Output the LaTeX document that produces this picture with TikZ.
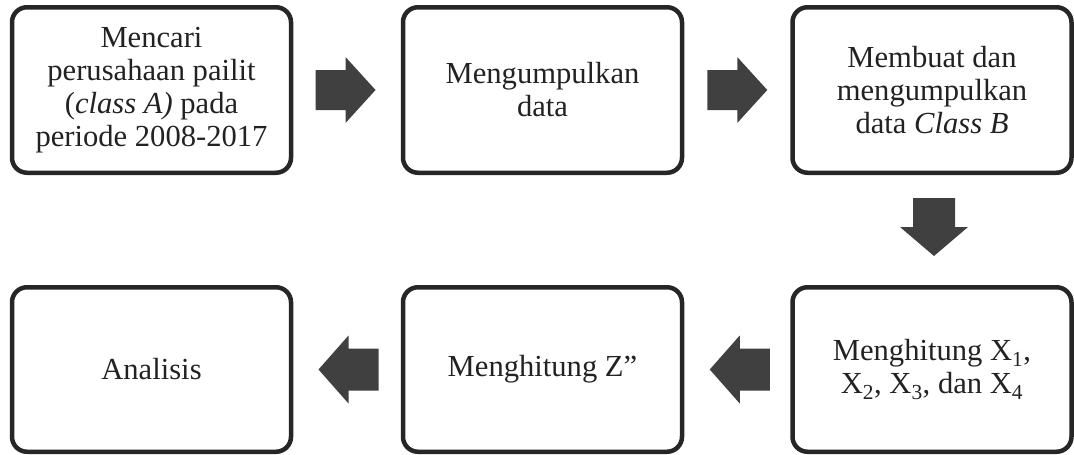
\documentclass[tikz,border=0pt]{standalone}
\usepackage{fontspec}
\setmainfont{Liberation Serif}
\usetikzlibrary{calc}
\definecolor{boxline}{HTML}{262626}
\definecolor{arrowfill}{HTML}{404040}
\definecolor{txt}{HTML}{222222}
\begin{document}
\begin{tikzpicture}[x=1pt,y=-1pt,
  stepbox/.style={draw=boxline, line width=4.5pt, rounded corners=15pt,
    minimum width=279pt, inner sep=0pt, outer sep=0pt, align=center,
    text=txt, font=\fontsize{30.6}{33}\selectfont},
  topbox/.style={minimum height=165.5pt},
  botbox/.style={minimum height=164.5pt},
  blockarrow/.style={fill=arrowfill, draw=none}]
\useasboundingbox (0,0) rectangle (1074,455);
\node[stepbox, topbox] (b1) at (151.5,90) {Mencari\\perusahaan pailit\\(\textit{class A)} pada\\periode 2008-2017};
\node[stepbox, topbox] (b2) at (542.5,90) {Mengumpulkan\\data};
\node[stepbox, topbox] (b3) at (932,90) {Membuat dan\\mengumpulkan\\data \textit{Class B}};
\node[stepbox, botbox] (b6) at (932,369.5) {Menghitung X\textsubscript{1},\\X\textsubscript{2}, X\textsubscript{3}, dan X\textsubscript{4}};
\node[stepbox, botbox] (b5) at (542.5,369.5) {Menghitung Z”};
\node[stepbox, botbox] (b4) at (151.5,369.5) {Analisis};
% arrow centres
\coordinate (c1) at ($(b1.east)!0.5!(b2.west)+(-1.5,0)$);
\coordinate (c2) at ($(b2.east)!0.5!(b3.west)$);
\coordinate (c3) at ($(b3.south)!0.5!(b6.north)+(2,-3)$);
\coordinate (c4) at ($(b6.west)!0.5!(b5.east)+(2.5,0)$);
\coordinate (c5) at ($(b5.west)!0.5!(b4.east)+(1.5,0)$);
% right arrows
\fill[blockarrow] ($(c1)+(-30,-20)$) -- ($(c1)+(0,-20)$) -- ($(c1)+(0,-33)$) -- ($(c1)+(30,0)$) -- ($(c1)+(0,33)$) -- ($(c1)+(0,20)$) -- ($(c1)+(-30,20)$) -- cycle;
\fill[blockarrow] ($(c2)+(-30,-20)$) -- ($(c2)+(0,-20)$) -- ($(c2)+(0,-33)$) -- ($(c2)+(30,0)$) -- ($(c2)+(0,33)$) -- ($(c2)+(0,20)$) -- ($(c2)+(-30,20)$) -- cycle;
% down arrow
\fill[blockarrow] ($(c3)+(-21,-29)$) -- ($(c3)+(21,-29)$) -- ($(c3)+(21,0)$) -- ($(c3)+(34,0)$) -- ($(c3)+(0,29)$) -- ($(c3)+(-34,0)$) -- ($(c3)+(-21,0)$) -- cycle;
% left arrows
\fill[blockarrow] ($(c4)+(30,-21)$) -- ($(c4)+(0,-21)$) -- ($(c4)+(0,-34)$) -- ($(c4)+(-30,0)$) -- ($(c4)+(0,34)$) -- ($(c4)+(0,21)$) -- ($(c4)+(30,21)$) -- cycle;
\fill[blockarrow] ($(c5)+(30,-21)$) -- ($(c5)+(0,-21)$) -- ($(c5)+(0,-34)$) -- ($(c5)+(-30,0)$) -- ($(c5)+(0,34)$) -- ($(c5)+(0,21)$) -- ($(c5)+(30,21)$) -- cycle;
\end{tikzpicture}
\end{document}
